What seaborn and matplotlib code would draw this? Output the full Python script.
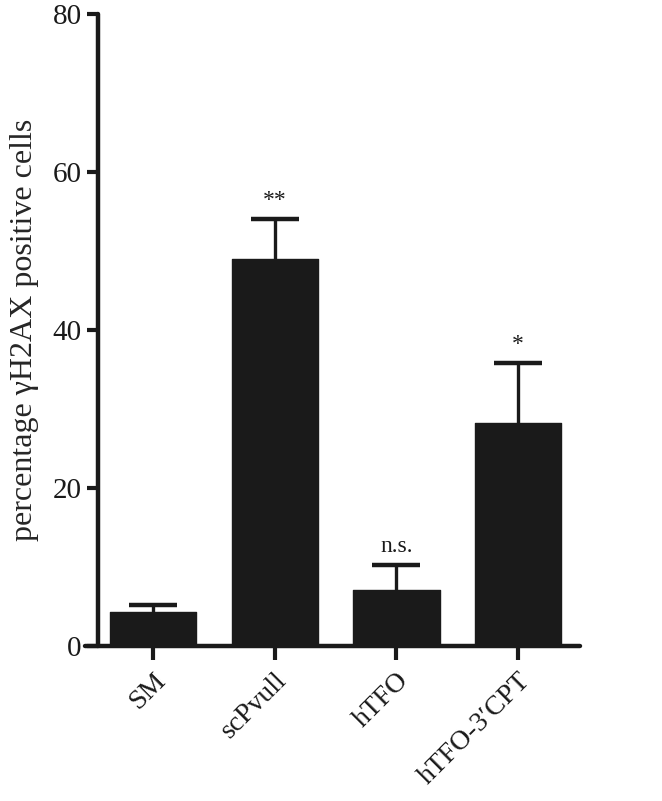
import matplotlib
matplotlib.use("Agg")
import matplotlib.pyplot as plt
import seaborn as sns
import pandas as pd

categories = ["SM", "scPvull", "hTFO", "hTFO-3\u2032CPT"]
means = [4.3, 49.0, 7.1, 28.2]
errors = [0.9, 5.0, 3.2, 7.6]
annotations = ["", "**", "n.s.", "*"]
yticks = [0, 20, 40, 60, 80]

sns.set_style("white")
plt.rcParams['font.family'] = ['Liberation Serif', 'DejaVu Serif']

df = pd.DataFrame({"group": categories, "value": means})

fig = plt.figure(figsize=(6.62, 8.01), dpi=100)
ax = fig.add_axes([85/662, 1-646/801, (580-85)/662, (646-14)/801])

sns.barplot(data=df, x="group", y="value", color="#1a1a1a", saturation=1,
            width=0.71, errorbar=None, ax=ax, zorder=3)
for p in ax.patches:
    p.set_edgecolor("#1a1a1a")
    p.set_linewidth(1)
    p.set_joinstyle("round")

xs = list(range(len(categories)))
eb = ax.errorbar(xs, means, yerr=[[0]*len(errors), errors], fmt="none",
                 ecolor="#1a1a1a", elinewidth=2.4, capsize=17.5, capthick=3.2, zorder=2)
caplines = eb[1]
if len(caplines) == 2:
    caplines[0].set_visible(False)

for x, m, e, a in zip(xs, means, errors, annotations):
    if a:
        ax.text(x, m + e + 1.0, a, ha="center", va="bottom", fontsize=17, color="#1a1a1a")

ax.set_xlim(-0.56, 3.51)
ax.set_ylim(0, 80)
ax.set_yticks(yticks)
ax.set_yticklabels([str(t) for t in yticks])
ax.set_xticks(xs)
ax.set_xticklabels(categories, rotation=45, ha="right", rotation_mode="anchor")
ax.set_xlabel("")
ax.set_ylabel("percentage \u03b3H2AX positive cells", fontsize=23, labelpad=10)

for s in ["top", "right"]:
    ax.spines[s].set_visible(False)
ax.spines["left"].set_position(("data", -0.45))
for s in ["left", "bottom"]:
    ax.spines[s].set_linewidth(3.2)
    ax.spines[s].set_color("#1a1a1a")
    ax.spines[s].set_capstyle("round")
ax.tick_params(axis="y", direction="out", length=8, width=3, color="#1a1a1a",
               pad=4, left=True, labelsize=21, labelcolor="#1a1a1a")
ax.tick_params(axis="x", direction="out", length=10, width=3, color="#1a1a1a",
               pad=6, bottom=True, labelsize=20, labelcolor="#1a1a1a")

fig.savefig("out.png", dpi=100)
